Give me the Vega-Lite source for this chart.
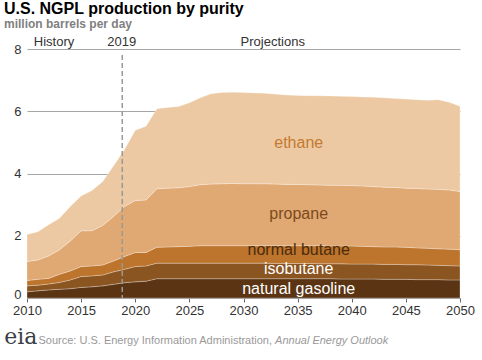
{
  "$schema": "https://vega.github.io/schema/vega-lite/v6.json",
  "width": 433,
  "height": 249,
  "autosize": {"type": "none"},
  "padding": {"left": 27, "top": 49, "right": 22, "bottom": 62},
  "background": "white",
  "config": {
    "font": "Liberation Sans",
    "view": {"stroke": null},
    "axisX": {"labelFontSize": 13, "labelColor": "#333333", "tickColor": "#666666", "domainColor": "#999999", "tickSize": 4, "labelPadding": 2, "grid": false, "title": null, "zindex": 1, "labelFont": "Liberation Sans", "labelFlush": false, "labelOverlap": false},
    "axisY": {"labelFontSize": 13, "labelColor": "#333333", "domain": false, "ticks": false, "grid": true, "gridColor": "#a6a6a6", "labelPadding": 6, "title": null, "labelFont": "Liberation Sans", "labelFlush": false}
  },
  "title": {
    "text": "U.S. NGPL production by purity",
    "subtitle": "million barrels per day",
    "anchor": "start",
    "frame": "group",
    "dx": -23,
    "offset": 6,
    "font": "Liberation Sans",
    "fontSize": 16,
    "fontWeight": "bold",
    "color": "#000000",
    "subtitleFont": "Liberation Sans",
    "subtitleFontSize": 12,
    "subtitleFontWeight": "bold",
    "subtitleColor": "#808080",
    "subtitlePadding": 2
  },
  "resolve": {"scale": {"color": "independent"}},
  "datasets": {
    "ngpl": [
      {"year": 2010, "ng": 0.20, "ib": 0.19, "nb": 0.17, "pr": 0.61, "et": 0.87},
      {"year": 2011, "ng": 0.23, "ib": 0.18, "nb": 0.19, "pr": 0.62, "et": 0.91},
      {"year": 2012, "ng": 0.26, "ib": 0.19, "nb": 0.18, "pr": 0.72, "et": 1.00},
      {"year": 2013, "ng": 0.28, "ib": 0.22, "nb": 0.26, "pr": 0.79, "et": 1.01},
      {"year": 2014, "ng": 0.30, "ib": 0.28, "nb": 0.29, "pr": 0.96, "et": 1.11},
      {"year": 2015, "ng": 0.34, "ib": 0.35, "nb": 0.32, "pr": 1.15, "et": 1.12},
      {"year": 2016, "ng": 0.36, "ib": 0.35, "nb": 0.32, "pr": 1.13, "et": 1.29},
      {"year": 2017, "ng": 0.39, "ib": 0.35, "nb": 0.32, "pr": 1.27, "et": 1.41},
      {"year": 2018, "ng": 0.44, "ib": 0.40, "nb": 0.35, "pr": 1.43, "et": 1.63},
      {"year": 2019, "ng": 0.49, "ib": 0.43, "nb": 0.41, "pr": 1.61, "et": 1.82},
      {"year": 2020, "ng": 0.52, "ib": 0.49, "nb": 0.45, "pr": 1.67, "et": 2.26},
      {"year": 2021, "ng": 0.54, "ib": 0.49, "nb": 0.43, "pr": 1.69, "et": 2.37},
      {"year": 2022, "ng": 0.62, "ib": 0.50, "nb": 0.51, "pr": 1.88, "et": 2.57},
      {"year": 2023, "ng": 0.62, "ib": 0.50, "nb": 0.52, "pr": 1.89, "et": 2.59},
      {"year": 2024, "ng": 0.62, "ib": 0.50, "nb": 0.53, "pr": 1.89, "et": 2.61},
      {"year": 2025, "ng": 0.62, "ib": 0.50, "nb": 0.54, "pr": 1.92, "et": 2.69},
      {"year": 2026, "ng": 0.62, "ib": 0.50, "nb": 0.56, "pr": 1.96, "et": 2.79},
      {"year": 2027, "ng": 0.62, "ib": 0.50, "nb": 0.56, "pr": 1.98, "et": 2.90},
      {"year": 2028, "ng": 0.62, "ib": 0.50, "nb": 0.56, "pr": 1.99, "et": 2.93},
      {"year": 2029, "ng": 0.62, "ib": 0.50, "nb": 0.56, "pr": 2.00, "et": 2.93},
      {"year": 2030, "ng": 0.62, "ib": 0.50, "nb": 0.56, "pr": 1.99, "et": 2.93},
      {"year": 2031, "ng": 0.62, "ib": 0.50, "nb": 0.56, "pr": 1.99, "et": 2.92},
      {"year": 2032, "ng": 0.62, "ib": 0.50, "nb": 0.56, "pr": 1.99, "et": 2.91},
      {"year": 2033, "ng": 0.62, "ib": 0.49, "nb": 0.57, "pr": 1.98, "et": 2.89},
      {"year": 2034, "ng": 0.62, "ib": 0.49, "nb": 0.57, "pr": 1.97, "et": 2.87},
      {"year": 2035, "ng": 0.62, "ib": 0.49, "nb": 0.57, "pr": 1.97, "et": 2.86},
      {"year": 2036, "ng": 0.62, "ib": 0.49, "nb": 0.57, "pr": 1.96, "et": 2.86},
      {"year": 2037, "ng": 0.62, "ib": 0.48, "nb": 0.58, "pr": 1.95, "et": 2.87},
      {"year": 2038, "ng": 0.62, "ib": 0.48, "nb": 0.57, "pr": 1.95, "et": 2.87},
      {"year": 2039, "ng": 0.61, "ib": 0.49, "nb": 0.57, "pr": 1.95, "et": 2.86},
      {"year": 2040, "ng": 0.61, "ib": 0.48, "nb": 0.58, "pr": 1.94, "et": 2.86},
      {"year": 2041, "ng": 0.61, "ib": 0.48, "nb": 0.57, "pr": 1.94, "et": 2.86},
      {"year": 2042, "ng": 0.61, "ib": 0.48, "nb": 0.56, "pr": 1.93, "et": 2.87},
      {"year": 2043, "ng": 0.60, "ib": 0.48, "nb": 0.56, "pr": 1.92, "et": 2.87},
      {"year": 2044, "ng": 0.60, "ib": 0.48, "nb": 0.56, "pr": 1.91, "et": 2.86},
      {"year": 2045, "ng": 0.60, "ib": 0.47, "nb": 0.56, "pr": 1.90, "et": 2.86},
      {"year": 2046, "ng": 0.59, "ib": 0.48, "nb": 0.54, "pr": 1.91, "et": 2.85},
      {"year": 2047, "ng": 0.59, "ib": 0.47, "nb": 0.54, "pr": 1.90, "et": 2.85},
      {"year": 2048, "ng": 0.59, "ib": 0.46, "nb": 0.53, "pr": 1.91, "et": 2.88},
      {"year": 2049, "ng": 0.58, "ib": 0.46, "nb": 0.53, "pr": 1.90, "et": 2.82},
      {"year": 2050, "ng": 0.58, "ib": 0.45, "nb": 0.52, "pr": 1.87, "et": 2.74}
    ],
    "order": [
      {"k": "ng", "o": 1},
      {"k": "ib", "o": 2},
      {"k": "nb", "o": 3},
      {"k": "pr", "o": 4},
      {"k": "et", "o": 5}
    ],
    "labels": [
      {"t": "ethane", "x": 2035.1, "y": 4.98},
      {"t": "propane", "x": 2035.1, "y": 2.70},
      {"t": "normal butane", "x": 2035.1, "y": 1.54},
      {"t": "isobutane", "x": 2035.1, "y": 0.93},
      {"t": "natural gasoline", "x": 2035.1, "y": 0.29}
    ],
    "top": [
      {"t": "History", "x": 2012.5, "y": 8.1},
      {"t": "2019", "x": 2018.75, "y": 8.1},
      {"t": "Projections", "x": 2032.7, "y": 8.1}
    ]
  },
  "layer": [
    {
      "data": {"name": "ngpl"},
      "transform": [
        {"fold": ["ng", "ib", "nb", "pr", "et"], "as": ["k", "v"]},
        {"lookup": "k", "from": {"data": {"name": "order"}, "key": "k", "fields": ["o"]}}
      ],
      "mark": {"type": "area", "interpolate": "linear", "stroke": "#ffffff", "strokeWidth": 0.6, "strokeOpacity": 0.45},
      "encoding": {
        "x": {"field": "year", "type": "quantitative", "scale": {"domain": [2010, 2050], "nice": false, "zero": false}, "axis": {"values": [2010, 2015, 2020, 2025, 2030, 2035, 2040, 2045, 2050], "format": "d"}},
        "y": {"field": "v", "type": "quantitative", "stack": "zero", "scale": {"domain": [0, 8], "nice": false}, "axis": {"values": [0, 2, 4, 6, 8], "labelBaseline": {"condition": {"test": "datum.value == 0", "value": "alphabetic"}, "value": "middle"}}},
        "color": {"field": "k", "type": "nominal", "scale": {"domain": ["ng", "ib", "nb", "pr", "et"], "range": ["#5b3513", "#8b5522", "#bd742c", "#e0a872", "#ecc9a3"]}, "legend": null},
        "order": {"field": "o", "type": "quantitative"}
      }
    },
    {
      "data": {"values": [{"x": 2018.8, "y": 7.81, "y2": 0}]},
      "mark": {"type": "rule", "color": "#999999", "strokeWidth": 1.5, "strokeDash": [5, 3]},
      "encoding": {
        "x": {"field": "x", "type": "quantitative", "scale": {"domain": [2010, 2050], "nice": false, "zero": false}},
        "y": {"field": "y", "type": "quantitative", "scale": {"domain": [0, 8], "nice": false}},
        "y2": {"field": "y2"}
      }
    },
    {
      "data": {"name": "labels"},
      "mark": {"type": "text", "fontSize": 16, "align": "center", "baseline": "middle", "font": "Liberation Sans"},
      "encoding": {
        "x": {"field": "x", "type": "quantitative", "scale": {"domain": [2010, 2050], "nice": false, "zero": false}},
        "y": {"field": "y", "type": "quantitative", "scale": {"domain": [0, 8], "nice": false}},
        "text": {"field": "t"},
        "color": {"field": "t", "type": "nominal", "scale": {"domain": ["ethane", "propane", "normal butane", "isobutane", "natural gasoline"], "range": ["#c47a30", "#7c4a1c", "#4b2b0e", "#ffffff", "#ffffff"]}, "legend": null}
      }
    },
    {
      "data": {"name": "top"},
      "mark": {"type": "text", "fontSize": 13, "align": "center", "baseline": "alphabetic", "color": "#333333", "font": "Liberation Sans"},
      "encoding": {
        "x": {"field": "x", "type": "quantitative", "scale": {"domain": [2010, 2050], "nice": false, "zero": false}},
        "y": {"field": "y", "type": "quantitative", "scale": {"domain": [0, 8], "nice": false}},
        "text": {"field": "t"}
      }
    },
    {
      "data": {"values": [{"t": "Source: U.S. Energy Information Administration,", "x": 2011.06, "y": -1.48}]},
      "mark": {"type": "text", "fontSize": 11, "align": "left", "baseline": "alphabetic", "color": "#999999", "font": "Liberation Sans"},
      "encoding": {
        "x": {"field": "x", "type": "quantitative", "scale": {"domain": [2010, 2050], "nice": false, "zero": false}},
        "y": {"field": "y", "type": "quantitative", "scale": {"domain": [0, 8], "nice": false}},
        "text": {"field": "t"}
      }
    },
    {
      "data": {"values": [{"t": "Annual Energy Outlook", "x": 2032.92, "y": -1.48}]},
      "mark": {"type": "text", "fontSize": 11, "fontStyle": "italic", "align": "left", "baseline": "alphabetic", "color": "#999999", "font": "Liberation Sans"},
      "encoding": {
        "x": {"field": "x", "type": "quantitative", "scale": {"domain": [2010, 2050], "nice": false, "zero": false}},
        "y": {"field": "y", "type": "quantitative", "scale": {"domain": [0, 8], "nice": false}},
        "text": {"field": "t"}
      }
    },
    {
      "data": {"values": [{"t": "eia", "x": 2007.9, "y": -1.48}]},
      "mark": {"type": "text", "fontSize": 22, "align": "left", "baseline": "alphabetic", "color": "#3a3f47", "font": "DejaVu Serif"},
      "encoding": {
        "x": {"field": "x", "type": "quantitative", "scale": {"domain": [2010, 2050], "nice": false, "zero": false}},
        "y": {"field": "y", "type": "quantitative", "scale": {"domain": [0, 8], "nice": false}},
        "text": {"field": "t"}
      }
    }
  ]
}
